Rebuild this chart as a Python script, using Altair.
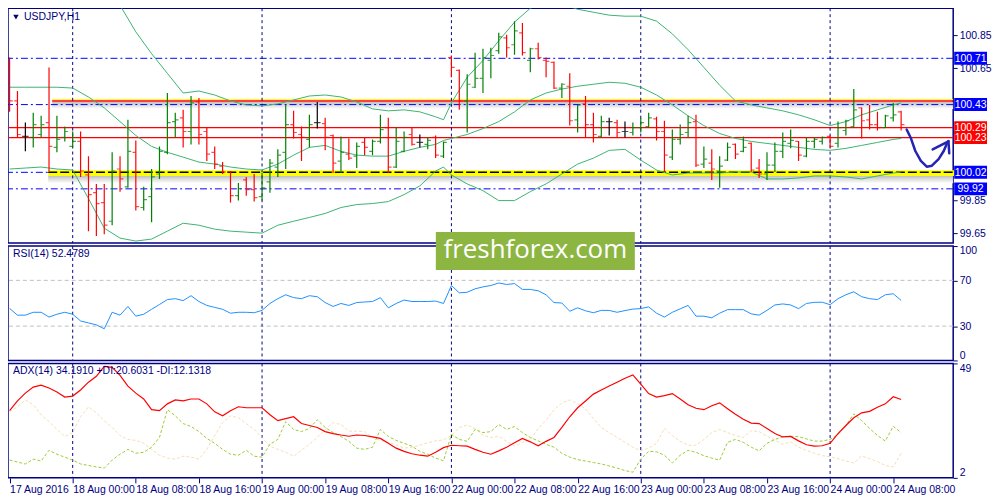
import altair as alt
import pandas as pd

# ---------------- data ----------------
bar_index = list(range(114))
opens = [100.667, 100.452, 100.237, 100.231, 100.249, 100.321, 100.171, 100.231, 100.177, 100.207,
         100.004, 99.897, 99.837, 99.724, 100.040, 99.932, 100.141, 99.807, 99.873, 100.010,
         100.141, 100.327, 100.350, 100.267, 100.446, 100.267, 100.141, 100.058, 100.022, 99.879,
         99.974, 99.915, 99.873, 99.962, 100.052, 100.141, 100.309, 100.249, 100.219, 100.321,
         100.315, 100.243, 100.088, 100.130, 100.118, 100.201, 100.147, 100.207, 100.291, 100.052,
         100.147, 100.249, 100.201, 100.189, 100.231, 100.118, 100.715, 100.637, 100.452, 100.535,
         100.589, 100.697, 100.756, 100.834, 100.792, 100.864, 100.697, 100.768, 100.697, 100.685,
         100.530, 100.541, 100.338, 100.434, 100.309, 100.237, 100.327, 100.321, 100.267, 100.261,
         100.291, 100.297, 100.344, 100.267, 100.112, 100.219, 100.261, 100.327, 100.070, 100.076,
         100.028, 100.094, 100.189, 100.147, 100.195, 100.046, 100.010, 100.064, 100.147, 100.195,
         100.207, 100.118, 100.207, 100.207, 100.237, 100.195, 100.273, 100.297, 100.410, 100.338,
         100.309, 100.291, 100.350, 100.386]
highs = [100.715, 100.512, 100.321, 100.380, 100.362, 100.655, 100.362, 100.297, 100.267, 100.267,
         100.118, 99.950, 99.950, 100.141, 100.118, 100.338, 100.213, 99.932, 100.040, 100.177,
         100.500, 100.380, 100.398, 100.482, 100.470, 100.291, 100.177, 100.082, 100.028, 99.956,
         99.992, 100.010, 100.016, 100.100, 100.159, 100.428, 100.392, 100.297, 100.368, 100.446,
         100.350, 100.249, 100.237, 100.225, 100.201, 100.231, 100.219, 100.368, 100.350, 100.291,
         100.267, 100.291, 100.249, 100.231, 100.243, 100.207, 100.727, 100.643, 100.613, 100.744,
         100.768, 100.774, 100.864, 100.852, 100.935, 100.924, 100.774, 100.804, 100.715, 100.691,
         100.559, 100.619, 100.428, 100.482, 100.380, 100.362, 100.350, 100.338, 100.327, 100.321,
         100.350, 100.380, 100.356, 100.332, 100.279, 100.309, 100.362, 100.368, 100.177, 100.159,
         100.118, 100.201, 100.195, 100.237, 100.201, 100.100, 100.141, 100.201, 100.261, 100.279,
         100.210, 100.231, 100.231, 100.237, 100.243, 100.327, 100.338, 100.524, 100.412, 100.428,
         100.386, 100.368, 100.440, 100.392]
lows = [100.386, 100.231, 100.147, 100.171, 100.231, 100.028, 100.141, 100.207, 100.171, 99.992,
        99.664, 99.634, 99.646, 99.700, 99.903, 99.926, 99.789, 99.789, 99.718, 99.980,
        100.130, 100.231, 100.171, 100.189, 100.189, 100.088, 100.040, 100.010, 99.837, 99.849,
        99.879, 99.843, 99.849, 99.897, 99.992, 100.040, 100.225, 100.088, 100.171, 100.285,
        100.153, 100.016, 100.016, 100.094, 100.046, 100.124, 100.124, 100.195, 100.016, 100.046,
        100.141, 100.183, 100.171, 100.159, 100.106, 100.106, 100.595, 100.398, 100.261, 100.530,
        100.500, 100.589, 100.738, 100.715, 100.732, 100.727, 100.625, 100.703, 100.595, 100.524,
        100.470, 100.303, 100.261, 100.231, 100.201, 100.231, 100.243, 100.231, 100.231, 100.243,
        100.261, 100.291, 100.213, 100.022, 100.094, 100.189, 100.231, 100.052, 100.046, 99.974,
        99.926, 100.088, 100.100, 100.141, 100.022, 99.986, 99.974, 100.022, 100.106, 100.165,
        100.088, 100.112, 100.165, 100.189, 100.171, 100.171, 100.243, 100.291, 100.225, 100.279,
        100.273, 100.289, 100.327, 100.273]
closes = [100.452, 100.249, 100.237, 100.309, 100.309, 100.177, 100.219, 100.267, 100.207, 100.028,
          99.885, 99.831, 99.700, 100.028, 99.980, 100.147, 99.813, 99.855, 99.992, 100.147,
          100.321, 100.338, 100.267, 100.440, 100.249, 100.130, 100.070, 100.022, 99.879, 99.921,
          99.915, 99.867, 99.926, 100.076, 100.124, 100.309, 100.261, 100.231, 100.309, 100.321,
          100.231, 100.076, 100.141, 100.106, 100.177, 100.171, 100.207, 100.279, 100.052, 100.207,
          100.231, 100.189, 100.201, 100.213, 100.124, 100.201, 100.655, 100.452, 100.553, 100.589,
          100.715, 100.727, 100.840, 100.774, 100.876, 100.744, 100.768, 100.715, 100.691, 100.530,
          100.553, 100.332, 100.428, 100.309, 100.249, 100.327, 100.327, 100.261, 100.267, 100.291,
          100.321, 100.350, 100.267, 100.124, 100.219, 100.249, 100.321, 100.064, 100.100, 100.040,
          100.058, 100.171, 100.130, 100.171, 100.034, 100.010, 100.064, 100.147, 100.207, 100.213,
          100.124, 100.207, 100.219, 100.231, 100.177, 100.291, 100.332, 100.398, 100.332, 100.309,
          100.291, 100.362, 100.368, 100.309]

band_index = [0, 2, 4, 6, 8, 10, 12, 14, 16, 18, 20, 22, 24, 26, 28, 30, 32, 34, 36, 38,
              40, 42, 44, 46, 48, 50, 52, 54, 55, 56, 58, 60, 62, 64, 66, 68, 70, 72, 74, 76,
              78, 80, 82, 84, 86, 88, 90, 92, 94, 96, 98, 100, 102, 104, 106, 108, 110, 112, 113]
bb_upper = [101.031, 101.025, 101.025, 101.031, 101.031, 101.085, 101.144, 101.031, 100.870, 100.738,
            100.619, 100.500, 100.512, 100.488, 100.452, 100.428, 100.422, 100.434, 100.458, 100.482,
            100.488, 100.476, 100.446, 100.404, 100.392, 100.398, 100.386, 100.356, 100.338,
            100.440, 100.595, 100.697, 100.816, 100.929, 101.013, 101.049, 101.037, 101.007, 100.989,
            100.971, 100.965, 100.965, 100.935, 100.858, 100.762, 100.655, 100.547, 100.452, 100.428,
            100.410, 100.392, 100.368, 100.338, 100.303, 100.327, 100.368, 100.398, 100.428, 100.440]
bb_middle = [100.535, 100.535, 100.535, 100.535, 100.530, 100.476, 100.410, 100.327, 100.243, 100.177,
             100.141, 100.112, 100.082, 100.070, 100.052, 100.040, 100.034, 100.070, 100.124, 100.171,
             100.183, 100.147, 100.124, 100.118, 100.118, 100.147, 100.171, 100.189, 100.213,
             100.225, 100.249, 100.285, 100.327, 100.386, 100.458, 100.500, 100.524, 100.541, 100.553,
             100.565, 100.559, 100.535, 100.488, 100.428, 100.362, 100.303, 100.255, 100.225, 100.207,
             100.195, 100.183, 100.171, 100.159, 100.153, 100.165, 100.183, 100.201, 100.219, 100.225]
bb_lower = [100.040, 100.046, 100.052, 100.040, 100.034, 99.861, 99.682, 99.622, 99.604, 99.616,
            99.664, 99.712, 99.700, 99.676, 99.664, 99.658, 99.652, 99.700, 99.724, 99.747,
            99.771, 99.807, 99.825, 99.831, 99.843, 99.885, 99.938, 100.028, 100.052,
            100.004, 99.950, 99.909, 99.849, 99.849, 99.903, 99.950, 100.010, 100.070, 100.106,
            100.153, 100.159, 100.094, 100.034, 100.004, 100.016, 100.016, 100.016, 100.022, 100.022,
            99.980, 99.980, 99.986, 99.998, 99.998, 99.992, 99.980, 99.998, 100.016, 100.022]

rsi = [45.5, 39.6, 39.6, 42.1, 42.1, 37.9, 40.4, 42.1, 40.4, 34.5,
       32.8, 31.1, 27.7, 42.1, 39.6, 47.2, 38.7, 40.4, 44.7, 48.9,
       53.2, 54.0, 52.3, 56.6, 51.5, 48.1, 46.4, 44.7, 41.3, 42.1,
       42.1, 41.7, 43.8, 49.8, 54.0, 57.4, 54.9, 54.0, 56.6, 55.7,
       50.6, 47.2, 49.8, 48.1, 50.6, 51.1, 51.5, 54.9, 46.0, 49.8,
       52.8, 51.5, 51.5, 51.5, 51.9, 49.8, 65.5, 59.1, 59.6, 62.6,
       64.3, 65.5, 67.7, 66.4, 67.2, 62.1, 62.1, 60.9, 57.4, 50.6,
       50.2, 43.0, 46.0, 43.4, 41.7, 43.8, 43.7, 42.1, 43.6, 44.9,
       45.3, 46.8, 41.3, 37.9, 42.1, 45.1, 48.1, 38.7, 38.7, 37.3,
       41.3, 44.4, 44.4, 44.4, 40.7, 39.6, 43.8, 48.5, 49.4, 48.5,
       45.3, 49.8, 50.8, 50.9, 48.7, 54.0, 57.4, 60.0, 55.7, 54.0,
       53.2, 57.4, 58.3, 52.48]
adx = [29.6, 33.6, 36.8, 39.3, 40.1, 38.9, 37.3, 35.2, 35.6, 38.1,
       41.3, 43.7, 47.8, 47.4, 44.1, 39.7, 36.8, 34.4, 30.0, 29.6,
       32.4, 34.0, 33.6, 34.4, 34.4, 32.4, 29.1, 27.5, 29.6, 31.2,
       30.8, 30.8, 30.8, 27.9, 25.5, 26.3, 27.1, 24.3, 23.5, 22.7,
       21.0, 20.2, 19.6, 19.1, 19.6, 19.4, 18.8, 18.2, 16.2, 14.2,
       12.9, 11.9, 11.3, 10.9, 12.5, 14.4, 15.4, 15.2, 15.0, 13.7,
       12.5, 11.7, 13.1, 14.6, 16.4, 18.2, 16.8, 15.2, 17.0, 18.6,
       22.7, 27.1, 30.8, 33.6, 36.4, 38.1, 39.7, 41.3, 42.9, 44.3,
       40.5, 36.6, 35.2, 35.8, 36.6, 34.4, 32.0, 30.6, 30.0, 31.6,
       32.8, 30.4, 28.1, 26.1, 24.5, 24.3, 22.3, 20.2, 18.8, 19.0,
       17.2, 15.6, 15.0, 15.2, 16.2, 20.2, 23.5, 26.7, 28.7, 29.3,
       31.0, 32.4, 35.3, 34.19]
plus_di = [9.3, 8.5, 7.7, 9.7, 8.9, 13.3, 11.7, 10.5, 9.3, 7.7,
           7.1, 6.5, 6.0, 9.3, 11.7, 13.7, 12.1, 12.5, 14.6, 18.6,
           30.0, 27.5, 24.3, 23.1, 21.0, 18.2, 16.2, 13.7, 11.7, 11.3,
           13.3, 10.9, 10.5, 15.8, 17.8, 25.1, 21.9, 21.0, 22.3, 25.9,
           22.7, 20.6, 19.0, 17.0, 14.2, 13.7, 14.6, 21.9, 19.0, 17.4,
           16.2, 15.0, 12.9, 11.7, 10.1, 9.0, 19.8, 17.8, 17.0, 21.9,
           20.6, 21.0, 23.9, 21.9, 23.1, 20.6, 18.6, 17.2, 15.8, 14.6,
           12.1, 10.5, 9.5, 8.9, 8.3, 7.7, 6.9, 6.0, 5.0, 4.3,
           9.7, 12.9, 12.7, 11.3, 8.1, 11.3, 13.3, 12.5, 11.1, 10.1,
           9.3, 16.6, 17.8, 16.6, 14.6, 13.1, 16.2, 17.8, 18.8, 19.1,
           18.9, 18.0, 17.1, 17.1, 17.8, 19.8, 23.5, 28.3, 25.5, 22.3,
           19.4, 17.1, 23.2, 20.60]
minus_di = [29.1, 31.2, 34.0, 32.0, 27.9, 25.1, 21.9, 19.0, 20.6, 27.1,
            31.2, 28.7, 25.5, 22.7, 19.4, 17.8, 17.4, 16.2, 13.7, 11.3,
            10.1, 9.7, 10.9, 10.5, 9.7, 13.7, 19.4, 24.7, 27.5, 26.7,
            24.3, 21.9, 18.6, 15.0, 13.7, 12.5, 10.9, 13.3, 15.8, 18.6,
            21.9, 24.7, 23.9, 21.2, 21.2, 21.0, 18.6, 17.4, 16.6, 15.6,
            14.2, 14.6, 15.4, 16.4, 17.2, 17.6, 19.4, 22.7, 23.7, 22.3,
            19.4, 18.6, 19.0, 17.0, 15.1, 16.6, 17.8, 22.3, 25.7, 30.0,
            32.8, 34.0, 32.4, 30.4, 26.3, 22.7, 20.6, 18.6, 16.6, 14.6,
            13.1, 14.2, 16.2, 22.3, 19.4, 17.0, 15.4, 15.4, 17.8, 20.6,
            21.9, 20.6, 19.4, 18.6, 21.4, 21.0, 19.1, 17.4, 15.8, 16.8,
            14.6, 13.3, 12.1, 11.1, 10.7, 9.9, 8.9, 8.1, 11.0, 9.9,
            8.7, 7.1, 6.5, 12.13]

tick_index = [0, 8, 16, 24, 32, 40, 48, 56, 64, 72, 80, 88, 96, 104, 112]
tick_labels = ["17 Aug 2016", "18 Aug 00:00", "18 Aug 08:00", "18 Aug 16:00", "19 Aug 00:00",
               "19 Aug 08:00", "19 Aug 16:00", "22 Aug 00:00", "22 Aug 08:00", "22 Aug 16:00",
               "23 Aug 00:00", "23 Aug 08:00", "23 Aug 16:00", "24 Aug 00:00", "24 Aug 08:00"]
day_breaks = [8, 32, 56, 80, 104]

blue_levels = [100.71, 100.43, 100.02, 99.92]
red_levels = [100.29, 100.23]
resistance_level = [100.452]
resistance_start = [5.4]
support_level = [100.02]
support_start = [4.9]

arrow_x = [113.7, 114.2, 114.8, 115.5, 116.25, 116.9, 117.75, 118.4, 118.75, 119.0]
arrow_y = [100.279, 100.231, 100.149, 100.089, 100.054, 100.060, 100.100, 100.149, 100.189, 100.209]
arrowhead_x = [117.0, 119.0, 119.1]
arrowhead_y = [100.159, 100.207, 100.135]

price_title = ["USDJPY,H1"]
rsi_title = ["RSI(14) 52.4789"]
adx_title = ["ADX(14) 34.1910 +DI:20.6031 -DI:12.1318"]
watermark = ["freshforex.com"]
rsi_levels = [30, 70]

# ---------------- layout / style ----------------
W = 950
H_P, H_R, H_A = 236, 115, 115
NAVY = "#000080"
FONT = "Liberation Sans"
FS = 10.5
X_DOM = [-0.2, 119.6]


def xscale():
    return alt.Scale(domain=X_DOM, nice=False, zero=False)


price_axis = alt.Axis(orient="right", values=[99.65, 99.85, 100.65, 100.85], format=".2f",
                      title=None, grid=False, domain=False, ticks=True, tickSize=4,
                      tickColor=NAVY, labelColor=NAVY, labelFont=FONT, labelFontSize=FS,
                      labelPadding=2, labelFlush=False)


def yp(field):
    return alt.Y(field, scale=alt.Scale(domain=[99.592, 101.013], nice=False, zero=False),
                 axis=price_axis)


def xn(field):
    return alt.X(field, scale=xscale(), axis=None)


# ---- price panel ----
ohlc = pd.DataFrame({"i": bar_index, "open": opens, "high": highs, "low": lows, "close": closes})
ohlc_base = alt.Chart(ohlc).transform_calculate(
    col="datum.close > datum.open ? '#008000' : (datum.close < datum.open ? '#ff0000' : '#000000')"
)
bars = ohlc_base.mark_rule(strokeWidth=1.2, clip=True).encode(
    x=xn("i:Q"), y=yp("low:Q"), y2="high:Q", color=alt.Color("col:N", scale=None))
open_t = ohlc_base.mark_tick(orient="horizontal", size=3, thickness=1.2, xOffset=-1.8, clip=True).encode(
    x=xn("i:Q"), y=yp("open:Q"), color=alt.Color("col:N", scale=None))
close_t = ohlc_base.mark_tick(orient="horizontal", size=3, thickness=1.2, xOffset=1.8, clip=True).encode(
    x=xn("i:Q"), y=yp("close:Q"), color=alt.Color("col:N", scale=None))

bands = pd.concat([
    pd.DataFrame({"i": band_index, "v": bb_upper, "b": "upper"}),
    pd.DataFrame({"i": band_index, "v": bb_middle, "b": "middle"}),
    pd.DataFrame({"i": band_index, "v": bb_lower, "b": "lower"}),
])
bb = alt.Chart(bands).mark_line(color="#3cb371", strokeWidth=1, clip=True).encode(
    x=xn("i:Q"), y=yp("v:Q"), detail="b:N")

blue_df = pd.DataFrame({"v": blue_levels})
blue_lines = alt.Chart(blue_df).mark_rule(color="#0000ff", strokeWidth=1,
                                          strokeDash=[7, 3, 2, 3]).encode(y=yp("v:Q"))
red_df = pd.DataFrame({"v": red_levels})
red_lines = alt.Chart(red_df).mark_rule(color="#ff0000", strokeWidth=1.3).encode(y=yp("v:Q"))

shade = alt.LinearGradient(gradient="linear", x1=0, y1=0, x2=0, y2=1,
                           stops=[alt.GradientStop(offset=0, color="#b8b8b8"),
                                  alt.GradientStop(offset=1, color="#ffffff")])
res_df = pd.DataFrame({"s": resistance_start, "v": resistance_level})
sup_df = pd.DataFrame({"s": support_start, "v": support_level})

res_shadow = alt.Chart(res_df).mark_rect(fill=shade, opacity=0.9, yOffset=1, y2Offset=8).encode(
    x=xn("s:Q"), x2=alt.value(W), y=yp("v:Q"), y2="v:Q")
res_yellow = alt.Chart(res_df).mark_rule(color="#ffff00", strokeWidth=1, yOffset=-1.3).encode(
    x=xn("s:Q"), x2=alt.value(W), y=yp("v:Q"))
res_red = alt.Chart(res_df).mark_rule(color="#ff0000", strokeWidth=1.6).encode(
    x=xn("s:Q"), x2=alt.value(W), y=yp("v:Q"))

sup_shadow = alt.Chart(sup_df).mark_rect(fill=shade, opacity=0.9, yOffset=3.5, y2Offset=11).encode(
    x=xn("s:Q"), x2=alt.value(W), y=yp("v:Q"), y2="v:Q")
sup_yellow = alt.Chart(sup_df).mark_rule(color="#ffff00", strokeWidth=6, yOffset=0.8).encode(
    x=xn("s:Q"), x2=alt.value(W + 2), y=yp("v:Q"))
sup_black = alt.Chart(sup_df).mark_rule(color="#000000", strokeWidth=1.5, strokeDash=[9, 3]).encode(
    x=xn("s:Q"), x2=alt.value(W), y=yp("v:Q"))

days_df = pd.DataFrame({"i": day_breaks})
days_p = alt.Chart(days_df).mark_rule(color=NAVY, strokeWidth=1, strokeDash=[3, 3]).encode(x=xn("i:Q"))

arrow_df = pd.DataFrame({"i": arrow_x, "v": arrow_y, "o": list(range(len(arrow_x)))})
arrow = alt.Chart(arrow_df).mark_line(color="#2424b4", strokeWidth=2.5, strokeCap="round",
                                      strokeJoin="round", clip=False).encode(
    x=xn("i:Q"), y=yp("v:Q"), order="o:Q")
head_df = pd.DataFrame({"i": arrowhead_x, "v": arrowhead_y, "o": list(range(len(arrowhead_x)))})
head = alt.Chart(head_df).mark_line(color="#2424b4", strokeWidth=2.5, strokeCap="round",
                                    strokeJoin="round", clip=False).encode(
    x=xn("i:Q"), y=yp("v:Q"), order="o:Q")

lab_df = pd.DataFrame({
    "v": blue_levels + red_levels,
    "txt": [f"{v:.2f}" for v in blue_levels + red_levels],
    "bg": ["#0000ff"] * len(blue_levels) + ["#ff0000"] * len(red_levels),
})
lab_box = alt.Chart(lab_df).mark_tick(orient="horizontal", size=33, thickness=13, clip=False,
                                      opacity=1).encode(
    x=alt.value(W + 17.5), y=yp("v:Q"), color=alt.Color("bg:N", scale=None))
lab_txt = alt.Chart(lab_df).mark_text(color="white", font=FONT, fontSize=FS, align="center",
                                      baseline="middle", dy=0.5, clip=False).encode(
    x=alt.value(W + 17.5), y=yp("v:Q"), text="txt:N")

pt_df = pd.DataFrame({"t": price_title})
tri = alt.Chart(pt_df).mark_point(shape="triangle-down", filled=True, size=30, color=NAVY,
                                  opacity=1).encode(x=alt.value(8), y=alt.value(9))
ptitle = alt.Chart(pt_df).mark_text(align="left", baseline="middle", font=FONT, fontSize=FS,
                                    color=NAVY).encode(x=alt.value(16), y=alt.value(9), text="t:N")

price = alt.layer(res_shadow, sup_shadow, blue_lines, red_lines, sup_yellow, sup_black,
                  res_yellow, res_red, days_p, bb, bars, open_t, close_t, arrow, head,
                  lab_box, lab_txt, tri, ptitle).properties(width=W, height=H_P)

# ---- RSI panel ----
rsi_axis = alt.Axis(orient="right", values=[0, 30, 70, 100], title=None, grid=False, domain=False,
                    ticks=True, tickSize=4, tickColor=NAVY, labelColor=NAVY, labelFont=FONT,
                    labelFontSize=FS, labelPadding=2, labelFlush=True)


def yr(field):
    return alt.Y(field, scale=alt.Scale(domain=[0, 100], nice=False, zero=False), axis=rsi_axis)


rsi_df = pd.DataFrame({"i": bar_index, "v": rsi})
rsi_lv = alt.Chart(pd.DataFrame({"v": rsi_levels})).mark_rule(
    color="#c0c0c0", strokeDash=[4, 3], strokeWidth=1).encode(y=yr("v:Q"))
days_r = alt.Chart(days_df).mark_rule(color=NAVY, strokeWidth=1, strokeDash=[3, 3]).encode(x=xn("i:Q"))
rsi_line = alt.Chart(rsi_df).mark_line(color="#1e90ff", strokeWidth=1, clip=True).encode(
    x=xn("i:Q"), y=yr("v:Q"))
rt_df = pd.DataFrame({"t": rsi_title})
rtitle = alt.Chart(rt_df).mark_text(align="left", baseline="middle", font=FONT, fontSize=FS,
                                    color=NAVY).encode(x=alt.value(5), y=alt.value(8), text="t:N")
wm_df = pd.DataFrame({"t": watermark})
wm_box = alt.Chart(wm_df).mark_rect(color="#8db542", clip=False).encode(
    x=alt.value(430), x2=alt.value(630), y=alt.value(-14), y2=alt.value(24))
wm_txt = alt.Chart(wm_df).mark_text(color="white", font="Open Sans", fontSize=26, align="center",
                                    baseline="middle", clip=False).encode(
    x=alt.value(530), y=alt.value(4), text="t:N")
rsi_chart = alt.layer(rsi_lv, days_r, rsi_line, rtitle, wm_box, wm_txt).properties(width=W, height=H_R)

# ---- ADX panel ----
label_expr = ("[" + ",".join(f"'{s}'" for s in tick_labels) + "][indexof(["
              + ",".join(str(t) for t in tick_index) + "], datum.value)]")
x_axis = alt.Axis(orient="bottom", values=tick_index, labelExpr=label_expr, title=None, grid=False,
                  domain=False, ticks=True, tickSize=5, tickColor=NAVY, labelColor=NAVY,
                  labelFont=FONT, labelFontSize=FS, labelAlign="left", labelPadding=2,
                  labelFlush=False, labelOverlap=False, labelBound=False)
adx_axis = alt.Axis(orient="right", values=[2, 49], title=None, grid=False, domain=False,
                    ticks=True, tickSize=4, tickColor=NAVY, labelColor=NAVY, labelFont=FONT,
                    labelFontSize=FS, labelPadding=2, labelFlush=True)


def xa(field):
    return alt.X(field, scale=xscale(), axis=x_axis)


def ya(field):
    return alt.Y(field, scale=alt.Scale(domain=[2, 49], nice=False, zero=False), axis=adx_axis)


adx_df = pd.DataFrame({"i": bar_index, "adx": adx, "pdi": plus_di, "mdi": minus_di})
days_a = alt.Chart(days_df).mark_rule(color=NAVY, strokeWidth=1, strokeDash=[3, 3]).encode(x=xa("i:Q"))
mdi_line = alt.Chart(adx_df).mark_line(color="#f5deb3", strokeWidth=1, strokeDash=[3, 2], clip=True).encode(
    x=xa("i:Q"), y=ya("mdi:Q"))
pdi_line = alt.Chart(adx_df).mark_line(color="#9acd32", strokeWidth=1, strokeDash=[3, 2], clip=True).encode(
    x=xa("i:Q"), y=ya("pdi:Q"))
adx_line = alt.Chart(adx_df).mark_line(color="#ff0000", strokeWidth=1.2, clip=True).encode(
    x=xa("i:Q"), y=ya("adx:Q"))
at_df = pd.DataFrame({"t": adx_title})
atitle = alt.Chart(at_df).mark_text(align="left", baseline="middle", font=FONT, fontSize=FS,
                                    color=NAVY).encode(x=alt.value(5), y=alt.value(8), text="t:N")
adx_chart = alt.layer(days_a, mdi_line, pdi_line, adx_line, atitle).properties(width=W, height=H_A)

chart = alt.vconcat(price, rsi_chart, adx_chart, spacing=3, bounds="flush").resolve_scale(
    x="independent", y="independent").properties(
    padding={"left": -2, "top": -3, "right": 0, "bottom": 0}, background="white"
).configure_view(stroke=NAVY, strokeWidth=1.5)

chart.save("out.html", embed_options={"renderer": "svg", "actions": False})
